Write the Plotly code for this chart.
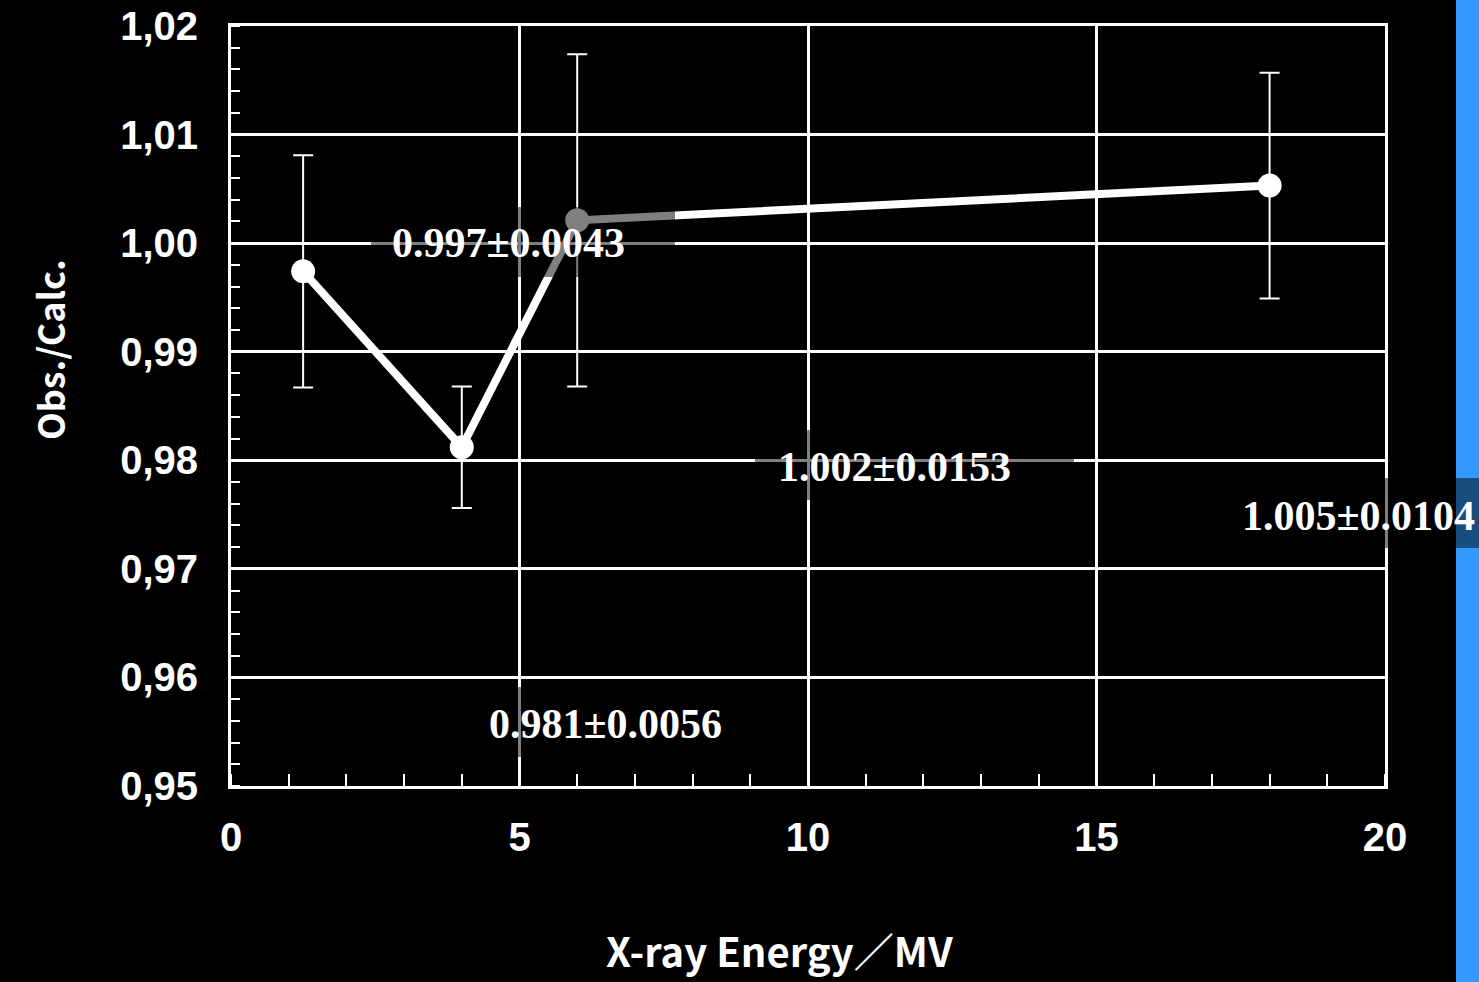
import plotly.graph_objects as go

# ---- data ----
energy = [1.25, 4, 6, 18]
ratio = [0.9974, 0.9812, 1.0021, 1.0053]
err = [0.0107, 0.0056, 0.0153, 0.0104]
labels = ["0.997±0.0043", "0.981±0.0056", "1.002±0.0153", "1.005±0.0104"]
label_x = [2.76, 4.44, 9.45, 17.49]
label_y = [1.0000, 0.9557, 0.9794, 0.9749]
y_ticks = [0.95, 0.96, 0.97, 0.98, 0.99, 1.00, 1.01, 1.02]
y_ticktext = ["0,95", "0,96", "0,97", "0,98", "0,99", "1,00", "1,01", "1,02"]
x_ticks = [0, 5, 10, 15, 20]

W, H = 1479, 982
L, R, T, B = 231, 94, 26, 196
PW, PH = W - L - R, H - T - B

def px(xp):
    return (xp - L) / PW

def py(yp):
    return (H - B - yp) / PH

fig = go.Figure()
fig.add_trace(go.Scatter(
    x=energy, y=ratio, mode="lines+markers",
    line=dict(color="white", width=8),
    marker=dict(color="white", size=24),
    error_y=dict(type="data", array=err, visible=True, color="white",
                 thickness=2, width=10),
    showlegend=False, cliponaxis=False,
))

shapes = []
# right blue stripe
shapes.append(dict(type="rect", xref="paper", yref="paper",
                   x0=px(1456), x1=px(1500), y0=py(1000), y1=py(-20),
                   fillcolor="#3399ff", line=dict(width=0), layer="below"))
# semi-transparent label boxes
boxes = [(371, 675, 207, 277), (466, 770, 687, 757), (755, 1074, 430, 500), (1219, 1530, 478, 548)]
for x0, x1, y0, y1 in boxes:
    shapes.append(dict(type="rect", xref="paper", yref="paper",
                       x0=px(x0), x1=px(x1), y0=py(y1), y1=py(y0),
                       fillcolor="rgba(0,0,0,0.5)", line=dict(width=0), layer="above"))

annotations = []
for t, lx, ly in zip(labels, label_x, label_y):
    annotations.append(dict(x=lx, y=ly, xref="x", yref="y", text=t, showarrow=False,
                            xanchor="left", yanchor="middle",
                            font=dict(family="Liberation Serif", size=42, color="white", weight="bold")))
annotations.append(dict(x=px(21), y=py(350), xref="paper", yref="paper", text="Obs./Calc.",
                        showarrow=False, textangle=-90,
                        font=dict(family="Noto Sans CJK JP", size=36, color="white", weight="bold")))
annotations.append(dict(x=px(779), y=py(950), xref="paper", yref="paper", text="X-ray Energy／MV",
                        showarrow=False, xanchor="center", yanchor="middle",
                        font=dict(family="Noto Sans CJK JP", size=40, color="white", weight="bold")))

fig.update_layout(
    width=W, height=H,
    margin=dict(l=L, r=R, t=T, b=B, autoexpand=False),
    paper_bgcolor="black", plot_bgcolor="black",
    shapes=shapes, annotations=annotations,
    xaxis=dict(range=[0, 20], tickvals=x_ticks, ticks="", showgrid=True,
               gridcolor="white", gridwidth=2.5, zeroline=False,
               showline=True, linecolor="white", linewidth=3, mirror=True,
               tickfont=dict(family="Liberation Sans", size=40, color="white", weight="bold"),
               ticklabelstandoff=14,
               minor=dict(dtick=1, ticks="inside", ticklen=12, tickcolor="white",
                          tickwidth=2, showgrid=False)),
    yaxis=dict(range=[0.95, 1.02], tickvals=y_ticks, ticktext=y_ticktext, ticks="",
               showgrid=True, gridcolor="white", gridwidth=2.5, zeroline=False,
               showline=True, linecolor="white", linewidth=3, mirror=True,
               tickfont=dict(family="Liberation Sans", size=40, color="white", weight="bold"),
               ticklabelstandoff=22,
               minor=dict(dtick=0.002, ticks="inside", ticklen=9, tickcolor="white",
                          tickwidth=2, showgrid=False)),
)

fig.write_html(
    "out.html",
    config={"displayModeBar": False},
    post_script="document.body.style.margin='0';document.body.style.background='black';",
)
